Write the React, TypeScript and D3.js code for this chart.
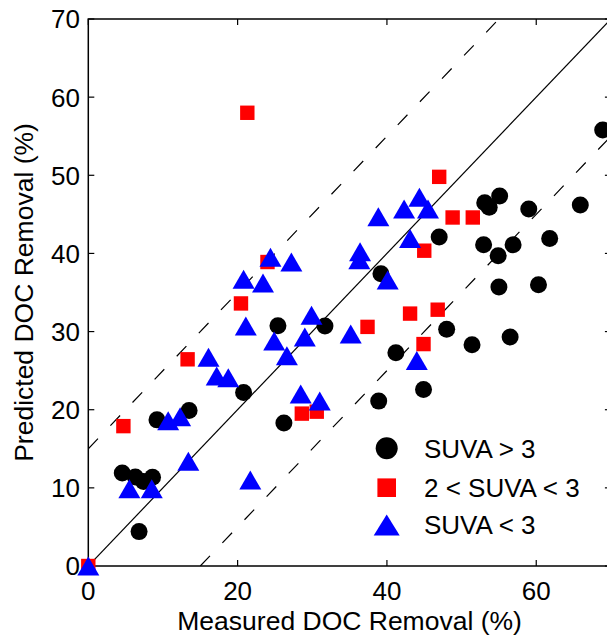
import React from "react";
import * as d3 from "d3";

// SUVA > 3 (black circles): [measured, predicted]
const suvaHighX = [68.9, 55.1, 53.1, 53.7, 59.0, 65.9, 47.0, 52.95, 56.9, 54.9, 61.8, 55.0, 60.3, 48.0, 51.4, 56.5, 31.7, 41.2, 44.9, 38.9, 39.2, 25.4, 20.8, 9.2, 13.5, 4.55, 6.3, 7.4, 8.6, 6.8, 26.2];
const suvaHighY = [55.8, 47.35, 46.5, 45.9, 45.7, 46.2, 42.1, 41.1, 41.1, 39.7, 41.9, 35.7, 36.0, 30.3, 28.3, 29.3, 30.7, 27.3, 22.6, 21.1, 37.4, 30.75, 22.2, 18.7, 19.9, 11.9, 11.4, 10.8, 11.35, 4.4, 18.3];

// 2 < SUVA < 3 (red squares)
const suvaMidX = [21.3, 47.0, 48.8, 51.5, 45.0, 46.8, 43.1, 37.4, 44.9, 24.0, 28.6, 30.6, 20.45, 13.3, 4.7, 0];
const suvaMidY = [58.0, 49.8, 44.6, 44.6, 40.35, 32.8, 32.3, 30.6, 28.4, 38.9, 19.5, 19.75, 33.6, 26.45, 17.9, 0];

// SUVA < 3 (blue triangles)
const suvaLowX = [44.35, 42.3, 45.5, 38.85, 43.1, 36.4, 36.3, 40.1, 29.9, 24.4, 27.2, 23.4, 24.9, 29.0, 26.6, 35.15, 44.0, 31.0, 28.45, 20.8, 21.1, 16.1, 17.2, 18.75, 10.7, 12.3, 13.4, 5.5, 8.5, 21.7, 0];
const suvaLowY = [47.2, 45.7, 45.7, 44.7, 41.9, 40.2, 39.2, 36.6, 32.1, 39.5, 38.9, 36.2, 28.8, 29.3, 26.9, 29.7, 26.3, 21.1, 22.0, 36.7, 30.7, 26.7, 24.3, 24.1, 18.6, 19.1, 13.4, 9.9, 9.9, 11.0, 0];

const xTicks = [0, 20, 40, 60];
const yTicks = [0, 10, 20, 30, 40, 50, 60, 70];
const legendLabels = ["SUVA > 3", "2 < SUVA < 3", "SUVA < 3"];
const band = 15;

const W = 607;
const H = 638;
const left = 88.3;
const right = 610.9;
const top = 19;
const bottom = 566;
const FONT = "'Liberation Sans', Arial, Helvetica, sans-serif";

export default function App() {
  const x = d3.scaleLinear().domain([0, 70]).range([left, right]);
  const y = d3.scaleLinear().domain([0, 70]).range([bottom, top]);
  const line = d3.line<[number, number]>().x((d) => x(d[0])).y((d) => y(d[1]));

  const tri = (cx: number, cy: number, w: number, h: number) =>
    `M${cx},${cy - h / 2}L${cx + w / 2},${cy + h / 2}L${cx - w / 2},${cy + h / 2}Z`;

  const tick = 6;
  const legX = 386.7;
  const legY = [448.3, 487.7, 525];
  const legTextX = 424;

  return (
    <svg width={W} height={H} style={{ position: "absolute", left: 0, top: 0, background: "#fff" }} fontFamily={FONT}>
      <rect x={0} y={0} width={W} height={H} fill="#fff" />
      <defs>
        <clipPath id="plotclip">
          <rect x={left} y={top} width={right - left} height={bottom - top} />
        </clipPath>
      </defs>
      <g clipPath="url(#plotclip)">
        <path d={line([[0, 0], [70, 70]]) || ""} stroke="#000" strokeWidth={1.2} fill="none" />
        <path d={line([[0, band], [70 - band, 70]]) || ""} stroke="#000" strokeWidth={1.2} fill="none" strokeDasharray="14,18" />
        <path d={line([[band, 0], [70, 70 - band]]) || ""} stroke="#000" strokeWidth={1.2} fill="none" strokeDasharray="14,18" />
      </g>
      {/* axes box */}
      <rect x={left} y={top} width={right - left} height={bottom - top} fill="none" stroke="#000" strokeWidth={1.5} />
      {xTicks.map((t) => (
        <g key={"xt" + t}>
          <line x1={x(t)} x2={x(t)} y1={bottom} y2={bottom - tick} stroke="#000" strokeWidth={1.2} />
          <line x1={x(t)} x2={x(t)} y1={top} y2={top + tick} stroke="#000" strokeWidth={1.2} />
          <text x={x(t)} y={600} textAnchor="middle" fontSize={26} fill="#000">{t}</text>
        </g>
      ))}
      {yTicks.map((t) => (
        <g key={"yt" + t}>
          <line x1={left} x2={left + tick} y1={y(t)} y2={y(t)} stroke="#000" strokeWidth={1.2} />
          <line x1={right} x2={right - tick} y1={y(t)} y2={y(t)} stroke="#000" strokeWidth={1.2} />
          <text x={80} y={y(t)} dy="0.36em" textAnchor="end" fontSize={26} fill="#000">{t}</text>
        </g>
      ))}
      <text x={(left + right) / 2} y={630} textAnchor="middle" fontSize={26.5} fill="#000">Measured DOC Removal (%)</text>
      <text transform={`translate(33,${(top + bottom) / 2}) rotate(-90)`} textAnchor="middle" fontSize={26.5} fill="#000">Predicted DOC Removal (%)</text>

      <g>
        {suvaHighX.map((v, i) => (
          <circle key={"c" + i} cx={x(v)} cy={y(suvaHighY[i])} r={8.5} fill="#000" />
        ))}
        {suvaMidX.map((v, i) => (
          <rect key={"s" + i} x={x(v) - 7.2} y={y(suvaMidY[i]) - 7.2} width={14.4} height={14.4} fill="#ff0000" />
        ))}
        {suvaLowX.map((v, i) => (
          <path key={"t" + i} d={tri(x(v), y(suvaLowY[i]), 22, 19)} fill="#0000ff" />
        ))}
      </g>

      {/* legend */}
      <circle cx={legX} cy={legY[0]} r={11} fill="#000" />
      <rect x={legX - 9.3} y={legY[1] - 9.3} width={18.6} height={18.6} fill="#ff0000" />
      <path d={tri(legX, legY[2], 26, 21)} fill="#0000ff" />
      {legendLabels.map((l, i) => (
        <text key={l} x={legTextX} y={legY[i]} dy="0.36em" fontSize={26} fill="#000">{l}</text>
      ))}
    </svg>
  );
}
